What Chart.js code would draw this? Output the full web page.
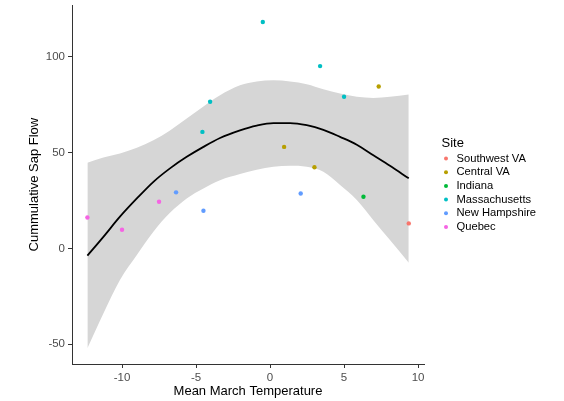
<!DOCTYPE html>
<html lang="en">
<head>
    <meta charset="UTF-8">
    <title>Cummulative Sap Flow vs Mean March Temperature</title>
    <script src="https://cdn.jsdelivr.net/npm/chart.js"></script>
    <style>
        body {
            margin: 0;
            background-color: #fff;
        }
        #chart-container {
            width: 564px;
            height: 401px;
        }
    </style>
</head>
<body>
<div id="chart-container">
    <canvas id="sapChart" width="564" height="401"></canvas>
</div>
<script>
    // sites, in legend order, and their colours
    var sites = ["Southwest VA", "Central VA", "Indiana", "Massachusetts", "New Hampshire", "Quebec"];
    var siteColors = ["#F8766D", "#B79F00", "#00BA38", "#00BFC4", "#619CFF", "#F564E3"];

    // observations per site (temperature, sap flow)
    var siteTemps = [
        [9.37],
        [7.34, 0.95, 3.0],
        [6.31],
        [-0.49, 3.38, 5.0, -4.05, -4.57],
        [-6.35, -4.5, 2.07],
        [-12.34, -10.0, -7.5]
    ];
    var siteFlows = [
        [13.0],
        [84.4, 52.9, 42.3],
        [26.9],
        [118.0, 95.0, 79.0, 76.4, 60.7],
        [29.2, 19.6, 28.6],
        [16.1, 9.7, 24.3]
    ];

    // fitted curve and confidence band
    var fitTemps = [-12.34, -11.26, -10.14, -9.0, -7.88, -6.76, -5.63, -4.5, -3.38, -2.03,
                    -0.9, 0.23, 1.35, 2.48, 3.6, 4.73, 5.86, 6.98, 8.1, 9.37];
    var fitFlow  = [-3.8, 6.0, 16.5, 26.0, 34.7, 41.7, 47.7, 52.9, 57.5, 61.5,
                    64.0, 65.3, 65.3, 64.2, 61.8, 58.1, 54.0, 48.5, 43.0, 36.5];
    var fitUpper = [44.6, 47.4, 49.5, 52.5, 56.4, 61.5, 67.7, 74.0, 79.8, 85.0,
                    87.0, 87.6, 87.0, 85.6, 83.0, 80.7, 79.0, 78.4, 79.0, 80.2];
    var fitLower = [-52.1, -33.9, -16.5, -3.5, 8.7, 18.5, 26.0, 31.2, 35.5, 38.7,
                    41.0, 42.5, 43.0, 42.5, 39.9, 33.0, 25.2, 14.7, 4.3, -7.5];

    var xTicks = [-10, -5, 0, 5, 10];
    var yTicks = [-50, 0, 50, 100];

    function pairs(xs, ys) {
        return xs.map(function (x, i) { return {x: x, y: ys[i]}; });
    }

    var datasets = [];
    sites.forEach(function (site, i) {
        datasets.push({
            label: site,
            data: pairs(siteTemps[i], siteFlows[i]),
            backgroundColor: siteColors[i],
            borderWidth: 0,
            pointRadius: 2.2,
            order: 0
        });
    });
    datasets.push({
        label: "fit",
        type: "line",
        data: pairs(fitTemps, fitFlow),
        borderColor: "#000",
        borderWidth: 1.8,
        pointRadius: 0,
        cubicInterpolationMode: "monotone",
        fill: false,
        order: 1
    });
    datasets.push({
        label: "upper",
        type: "line",
        data: pairs(fitTemps, fitUpper),
        borderWidth: 0,
        borderColor: "rgba(0,0,0,0)",
        backgroundColor: "#d6d6d6",
        pointRadius: 0,
        cubicInterpolationMode: "monotone",
        fill: "+1",
        order: 2
    });
    datasets.push({
        label: "lower",
        type: "line",
        data: pairs(fitTemps, fitLower),
        borderWidth: 0,
        borderColor: "rgba(0,0,0,0)",
        pointRadius: 0,
        cubicInterpolationMode: "monotone",
        fill: false,
        order: 3
    });

    // legend drawn by hand on the right
    var siteLegend = {
        id: "siteLegend",
        afterDraw: function (chart) {
            var ctx = chart.ctx;
            ctx.save();
            ctx.textBaseline = "middle";
            ctx.textAlign = "left";
            ctx.fillStyle = "#000";
            ctx.font = "13px 'Liberation Sans', Arial, sans-serif";
            ctx.fillText("Site", 441.5, 143.5);
            ctx.font = "11.2px 'Liberation Sans', Arial, sans-serif";
            sites.forEach(function (site, i) {
                var y = 158.5 + i * 13.7;
                ctx.fillStyle = siteColors[i];
                ctx.beginPath();
                ctx.arc(446, y, 2, 0, Math.PI * 2);
                ctx.fill();
                ctx.fillStyle = "#000";
                ctx.fillText(site, 456.5, y);
            });
            ctx.restore();
        }
    };

    var tickFont = {family: "'Liberation Sans', Arial, sans-serif", size: 11.5, lineHeight: 1};
    var yTickFont = {family: "'Liberation Sans', Arial, sans-serif", size: 11.5, lineHeight: 0.4};
    var titleFont = {family: "'Liberation Sans', Arial, sans-serif", size: 13};

    new Chart(document.getElementById("sapChart").getContext("2d"), {
        type: "scatter",
        data: {datasets: datasets},
        options: {
            responsive: false,
            animation: false,
            devicePixelRatio: 1,
            layout: {autoPadding: false, padding: {top: 5, right: 140, left: 0, bottom: 0}},
            plugins: {
                legend: {display: false},
                tooltip: {enabled: false}
            },
            scales: {
                x: {
                    type: "linear",
                    min: -13.38,
                    max: 10.4,
                    afterFit: function (scale) { scale.height = 37; },
                    afterBuildTicks: function (scale) {
                        scale.ticks = xTicks.map(function (v) { return {value: v}; });
                    },
                    ticks: {color: "#4d4d4d", font: tickFont, padding: 4, maxRotation: 0},
                    grid: {drawOnChartArea: false, color: "#333", tickLength: 4},
                    border: {color: "#333", width: 1},
                    title: {display: true, text: "Mean March Temperature", color: "#000",
                            font: titleFont, padding: {top: 0, bottom: 1.5}}
                },
                y: {
                    type: "linear",
                    min: -60.28,
                    max: 126.7,
                    afterFit: function (scale) { scale.width = 72; },
                    afterBuildTicks: function (scale) {
                        scale.ticks = yTicks.map(function (v) { return {value: v}; });
                    },
                    ticks: {color: "#4d4d4d", font: yTickFont, padding: 3},
                    grid: {drawOnChartArea: false, color: "#333", tickLength: 4},
                    border: {color: "#333", width: 1},
                    title: {display: true, text: "Cummulative Sap Flow", color: "#000",
                            font: titleFont, padding: {top: 27, bottom: 0}}
                }
            }
        },
        plugins: [siteLegend]
    });
</script>
</body>
</html>
